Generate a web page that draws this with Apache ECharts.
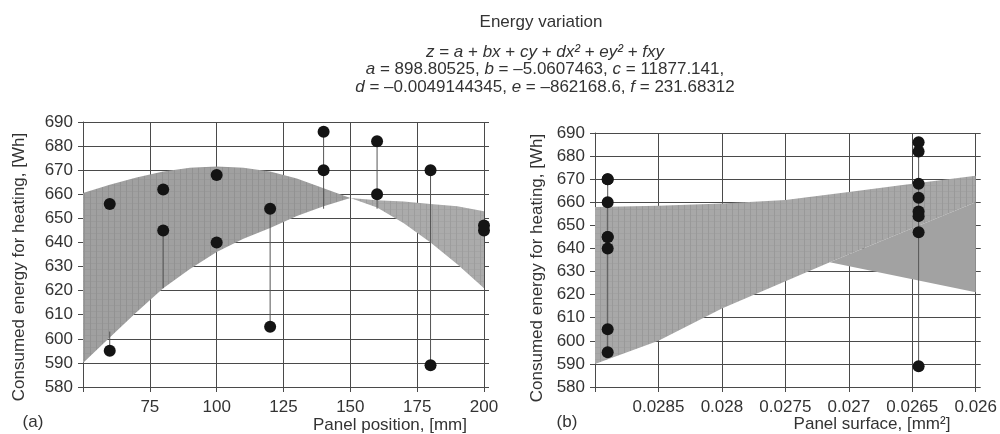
<!DOCTYPE html>
<html>
<head>
<meta charset="utf-8">
<script src="https://cdn.jsdelivr.net/npm/echarts@6.0.0/dist/echarts.min.js"></script>
<style>
  html, body { margin: 0; padding: 0; background: #fff; }
  #chart { width: 1000px; height: 434px; }
</style>
</head>
<body>
<div id="chart"></div>
<script>
// measured points: each panel position was tested with two panel surfaces
var positions = [60, 80, 100, 120, 140, 160, 180, 200];
var surfaces = [0.0289, 0.02645];
var energyAtSurfA = [595, 645, 640, 605, 670, 660, 670, 645];
var energyAtSurfB = [656, 662, 668, 654, 686, 682, 589, 647];

// vertical residual lines [x, from, to]
var stemsPos = [[60, 595, 603], [80, 645, 621], [120, 605, 654], [140, 686, 654], [160, 682, 654], [180, 589, 670]];
var stemsSurf = [[0.0289, 595, 670], [0.02645, 589, 686]];

// fitted surface seen against panel position (two lobes)
var lobeAX = [50, 60, 70, 80, 90, 100, 110, 120, 130, 140, 150];
var lobeATop = [660.5, 664, 667, 669.5, 671, 671.5, 671, 669.5, 666.5, 662.5, 658.5];
var lobeABottom = [590, 600.5, 611, 621, 629, 636, 641.5, 646, 651, 655, 658.5];
var lobeBX = [150, 160, 170, 180, 190, 200];
var lobeBTop = [658.5, 657.5, 657, 656, 655, 653];
var lobeBBottom = [658.5, 654.5, 648, 640, 631, 621];

// fitted surface seen against panel surface
var sheetX = [0.029, 0.0285, 0.028, 0.0275, 0.027, 0.0265, 0.026];
var sheetTop = [658, 658.5, 659.5, 661, 664.5, 668, 671.5];
var sheetLowX = [0.029, 0.0285, 0.028, 0.02715, 0.026];
var sheetLow = [590, 600, 614, 634, 660];
var foldPts = [[0.02715, 634], [0.026, 660], [0.026, 621]];

var yTicks = { min: 580, max: 690, interval: 10 };
var FONT = 'Liberation Sans';
var TXT = '#333';
var LINE = '#4a4a4a';

function meshPattern(base, line) {
  var c = document.createElement('canvas');
  c.width = 6; c.height = 6;
  var g = c.getContext('2d');
  g.fillStyle = base; g.fillRect(0, 0, 6, 6);
  g.fillStyle = line; g.fillRect(0, 0, 1, 6);
  g.globalAlpha = 0.5; g.fillRect(0, 5, 6, 1);
  return { image: c, repeat: 'repeat' };
}

function band(xs, top, bottom) {
  var up = xs.map(function (x, i) { return [x, top[i]]; });
  var down = xs.map(function (x, i) { return [x, bottom[i]]; }).reverse();
  return up.concat(down);
}

function polygon(idx, pts, fill) {
  return {
    type: 'custom', xAxisIndex: idx, yAxisIndex: idx * 2, silent: true, z: 2,
    data: [pts[0]],
    renderItem: function (params, api) {
      return { type: 'polygon', shape: { points: pts.map(function (p) { return api.coord(p); }) }, style: { fill: fill } };
    }
  };
}

function stems(idx, data) {
  return {
    type: 'custom', xAxisIndex: idx, yAxisIndex: idx * 2, silent: true, z: 3,
    data: data, encode: { x: 0, y: [1, 2] },
    renderItem: function (params, api) {
      var a = api.coord([api.value(0), api.value(1)]);
      var b = api.coord([api.value(0), api.value(2)]);
      return { type: 'line', shape: { x1: a[0], y1: a[1], x2: b[0], y2: b[1] }, style: { stroke: '#555', lineWidth: 1 } };
    }
  };
}

function dots(idx, data) {
  return {
    type: 'scatter', xAxisIndex: idx, yAxisIndex: idx * 2, z: 4, symbolSize: 12,
    itemStyle: { color: '#141414', opacity: 1 }, data: data
  };
}

function yAxes(grid) {
  return [{
    type: 'value', gridIndex: grid, min: yTicks.min, max: yTicks.max, interval: yTicks.interval,
    axisLine: { show: true, lineStyle: { color: LINE } },
    axisTick: { show: true, length: 5, lineStyle: { color: LINE } },
    axisLabel: { color: TXT, fontFamily: FONT, fontSize: 17, margin: 10 },
    splitLine: { show: true, lineStyle: { color: LINE, width: 1 } }
  }, {
    type: 'value', gridIndex: grid, position: 'right', min: yTicks.min, max: yTicks.max, interval: yTicks.interval,
    axisLine: { show: false }, axisLabel: { show: false }, splitLine: { show: false },
    axisTick: { show: true, length: 5, lineStyle: { color: LINE } }
  }];
}

var chart = echarts.init(document.getElementById('chart'));

var italic = { fontStyle: 'italic', fontSize: 17, fontFamily: FONT, fill: TXT };
function label(text, x, y, rotation) {
  return {
    type: 'text', x: x, y: y, rotation: rotation || 0,
    style: { text: text, x: 0, y: 0, fontSize: 17, fontFamily: FONT, fill: TXT,
      align: 'center', verticalAlign: 'middle', rich: { i: italic } }
  };
}

chart.setOption({
  animation: false,
  grid: [
    { left: 83, top: 122, width: 401, height: 265 },
    { left: 595, top: 133, width: 383, height: 254 }
  ],
  xAxis: [{
    type: 'value', gridIndex: 0, min: 50, max: 200, interval: 25,
    axisLine: { lineStyle: { color: LINE } },
    axisTick: { show: true, length: 5, lineStyle: { color: LINE } },
    axisLabel: { color: TXT, fontFamily: FONT, fontSize: 17, margin: 12,
      formatter: function (v) { return v === 50 ? '' : String(v); } },
    splitLine: { show: true, lineStyle: { color: LINE, width: 1 } }
  }, {
    type: 'value', gridIndex: 1, inverse: true, min: 0.026, max: 0.029, interval: 0.0005,
    axisLine: { lineStyle: { color: LINE } },
    axisTick: { show: true, length: 5, lineStyle: { color: LINE } },
    axisLabel: { color: TXT, fontFamily: FONT, fontSize: 17, margin: 12,
      formatter: function (v) { return Math.abs(v - 0.029) < 1e-9 ? '' : String(+v.toFixed(4)); } },
    splitLine: { show: true, lineStyle: { color: LINE, width: 1 } }
  }],
  yAxis: yAxes(0).concat(yAxes(1)),
  graphic: [
    label('Energy variation', 541, 22),
    label('{i|z} = {i|a} + {i|bx} + {i|cy} + {i|dx²} + {i|ey²} + {i|fxy}', 545, 52),
    label('{i|a} = 898.80525, {i|b} = –5.0607463, {i|c} = 11877.141,', 545, 69),
    label('{i|d} = –0.0049144345, {i|e} = –862168.6, {i|f} = 231.68312', 545, 87),
    label('Consumed energy for heating, [Wh]', 19, 267, Math.PI / 2),
    label('Consumed energy for heating, [Wh]', 537, 268, Math.PI / 2),
    label('(a)', 33, 422),
    label('(b)', 567, 422),
    label('Panel position, [mm]', 390, 425),
    label('Panel surface, [mm²]', 872, 424)
  ],
  series: [
    polygon(0, band(lobeAX, lobeATop, lobeABottom), meshPattern('#a0a0a0', '#929292')),
    polygon(0, band(lobeBX, lobeBTop, lobeBBottom), meshPattern('#ababab', '#9d9d9d')),
    polygon(1, sheetX.map(function (x, i) { return [x, sheetTop[i]]; })
      .concat(sheetLowX.map(function (x, i) { return [x, sheetLow[i]]; }).reverse()),
      meshPattern('#a8a8a8', '#999999')),
    polygon(1, foldPts, '#a2a2a2'),
    stems(0, stemsPos),
    stems(1, stemsSurf),
    dots(0, positions.map(function (x, i) { return [x, energyAtSurfA[i]]; })
      .concat(positions.map(function (x, i) { return [x, energyAtSurfB[i]]; }))),
    dots(1, energyAtSurfA.map(function (v) { return [surfaces[0], v]; })
      .concat(energyAtSurfB.map(function (v) { return [surfaces[1], v]; })))
  ]
});
</script>
</body>
</html>
